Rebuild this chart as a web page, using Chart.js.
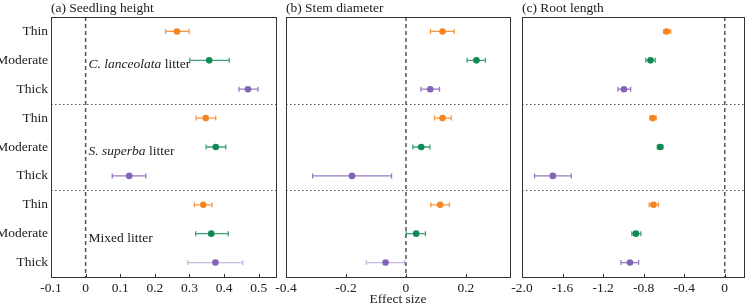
<!DOCTYPE html>
<html>
<head>
<meta charset="utf-8">
<script src="https://cdn.jsdelivr.net/npm/chart.js@4.4.1/dist/chart.umd.min.js"></script>
<style>
    html, body { margin: 0; padding: 0; background: #ffffff; }
    #wrap { position: relative; width: 748px; height: 308px; }
    #wrap canvas { position: absolute; left: 0; top: 0; }
</style>
</head>
<body>
<div id="wrap">
    <canvas id="heightChart" width="748" height="308"></canvas>
    <canvas id="diameterChart" width="748" height="308"></canvas>
    <canvas id="rootChart" width="748" height="308"></canvas>
</div>
<script>
// ===========================
// Data
// ===========================

const rowLabels = ['Thin', 'Moderate', 'Thick', 'Thin', 'Moderate', 'Thick', 'Thin', 'Moderate', 'Thick'];
const rowIndex = [1, 2, 3, 4, 5, 6, 7, 8, 9];

// group captions: italic part + plain part, and the row they sit next to
const groupItalic = ['C. lanceolata', 'S. superba', ''];
const groupPlain = [' litter', ' litter', 'Mixed litter'];
const groupRows = [2, 5, 8];
const groupBreaks = [3.5, 6.5];

// (a) Seedling height
const heightMean = [0.264, 0.357, 0.469, 0.347, 0.376, 0.126, 0.340, 0.363, 0.375];
const heightLow  = [0.231, 0.301, 0.443, 0.319, 0.348, 0.077, 0.314, 0.318, 0.295];
const heightHigh = [0.299, 0.415, 0.498, 0.376, 0.405, 0.174, 0.365, 0.412, 0.454];
const heightTicks = [-0.1, 0, 0.1, 0.2, 0.3, 0.4, 0.5];
const heightTickLabels = ['-0.1', '0', '0.1', '0.2', '0.3', '0.4', '0.5'];

// (b) Stem diameter
const diameterMean = [0.122, 0.235, 0.081, 0.122, 0.051, -0.180, 0.114, 0.034, -0.068];
const diameterLow  = [0.082, 0.204, 0.050, 0.095, 0.023, -0.311, 0.083, 0.001, -0.132];
const diameterHigh = [0.161, 0.265, 0.112, 0.151, 0.080, -0.048, 0.145, 0.065, -0.005];
const diameterTicks = [-0.4, -0.2, 0, 0.2];
const diameterTickLabels = ['-0.4', '-0.2', '0', '0.2'];

// (c) Root length
const rootMean = [-0.573, -0.732, -0.994, -0.710, -0.637, -1.696, -0.703, -0.876, -0.935];
const rootLow  = [-0.602, -0.778, -1.053, -0.739, -0.665, -1.876, -0.745, -0.916, -1.024];
const rootHigh = [-0.533, -0.686, -0.928, -0.676, -0.610, -1.514, -0.654, -0.827, -0.850];
const rootTicks = [-2.0, -1.6, -1.2, -0.8, -0.4, 0];
const rootTickLabels = ['-2.0', '-1.6', '-1.2', '-0.8', '-0.4', '0'];

// ===========================
// Styles
// ===========================

const FONT = '"Liberation Serif", "Times New Roman", serif';
const thicknessColors = ['#f7841f', '#0f8a55', '#8464b6'];
const barColors = ['rgba(247,132,31,0.85)', 'rgba(15,138,85,0.8)', 'rgba(132,100,182,0.85)'];
const faintBar = 'rgba(132,100,182,0.45)';

// ===========================
// Decoration plugin (box, zero line, separators, error bars, text)
// ===========================

const panelDecor = {
    id: 'panelDecor',
    beforeDatasetsDraw(chart, args, opts) {
        const ctx = chart.ctx;
        const area = chart.chartArea;
        const xs = chart.scales.x;
        const ys = chart.scales.y;

        ctx.save();
        // zero line
        const x0 = xs.getPixelForValue(0);
        ctx.strokeStyle = '#555';
        ctx.lineWidth = 1.5;
        ctx.setLineDash([4, 3]);
        ctx.beginPath();
        ctx.moveTo(x0, area.top);
        ctx.lineTo(x0, area.bottom);
        ctx.stroke();

        // dotted group separators
        ctx.lineWidth = 1.2;
        ctx.setLineDash([1.5, 2.5]);
        groupBreaks.forEach(b => {
            const yb = Math.round(ys.getPixelForValue(b)) + 0.5;
            ctx.beginPath();
            ctx.moveTo(area.left, yb);
            ctx.lineTo(area.right, yb);
            ctx.stroke();
        });
        ctx.setLineDash([]);

        // error bars
        const ds = chart.data.datasets[0];
        ds.data.forEach((pt, i) => {
            const y = ys.getPixelForValue(pt.y);
            const xl = xs.getPixelForValue(ds.errLow[i]);
            const xh = xs.getPixelForValue(ds.errHigh[i]);
            ctx.strokeStyle = ds.barColor[i];
            ctx.lineWidth = 1.3;
            ctx.beginPath();
            ctx.moveTo(xl, y);
            ctx.lineTo(xh, y);
            ctx.moveTo(xl, y - 2.5);
            ctx.lineTo(xl, y + 2.5);
            ctx.moveTo(xh, y - 2.5);
            ctx.lineTo(xh, y + 2.5);
            ctx.stroke();
        });
        ctx.restore();
    },
    afterDraw(chart, args, opts) {
        const ctx = chart.ctx;
        const area = chart.chartArea;
        const xs = chart.scales.x;
        const ys = chart.scales.y;

        ctx.save();
        // frame
        ctx.strokeStyle = '#333';
        ctx.lineWidth = 1;
        ctx.strokeRect(Math.round(area.left) + 0.5, Math.round(area.top) + 0.5,
            Math.round(area.right - area.left), Math.round(area.bottom - area.top));

        // inward tick marks on x axis
        xs.ticks.forEach(t => {
            const x = Math.round(xs.getPixelForValue(t.value)) + 0.5;
            ctx.beginPath();
            ctx.moveTo(x, area.bottom);
            ctx.lineTo(x, area.bottom - 3);
            ctx.stroke();
        });

        // panel title
        ctx.fillStyle = '#222';
        ctx.font = '13.5px ' + FONT;
        ctx.textAlign = 'left';
        ctx.textBaseline = 'alphabetic';
        ctx.fillText(opts.title, area.left, 12);

        // group captions
        if (opts.showGroups) {
            const gx = xs.getPixelForValue(0) + 3;
            groupRows.forEach((r, i) => {
                const gy = ys.getPixelForValue(r) + 8;
                ctx.font = 'italic 13.5px ' + FONT;
                ctx.fillText(groupItalic[i], gx, gy);
                const w = ctx.measureText(groupItalic[i]).width;
                ctx.font = '13.5px ' + FONT;
                ctx.fillText(groupPlain[i], gx + w, gy);
            });
        }

        // shared x axis title
        if (opts.xTitle) {
            ctx.font = '13.5px ' + FONT;
            ctx.textAlign = 'center';
            ctx.fillText(opts.xTitle, (area.left + area.right) / 2, 303);
        }
        ctx.restore();
    }
};

// ===========================
// Chart builder
// ===========================

function buildPanel(canvasId, cfg) {
    const ctx = document.getElementById(canvasId);
    if (!ctx) return null;

    const points = cfg.mean.map((v, i) => ({ x: v, y: rowIndex[i] }));
    const colors = rowIndex.map((r, i) => thicknessColors[i % 3]);
    const bars = rowIndex.map((r, i) => (cfg.faintLast && i === 8) ? faintBar : barColors[i % 3]);

    return new Chart(ctx, {
        type: 'scatter',
        data: {
            datasets: [
                {
                    data: points,
                    errLow: cfg.low,
                    errHigh: cfg.high,
                    barColor: bars,
                    pointBackgroundColor: colors,
                    pointBorderColor: colors,
                    pointBorderWidth: 0,
                    pointRadius: 3.3,
                    showLine: false
                }
            ]
        },
        options: {
            responsive: false,
            animation: false,
            devicePixelRatio: 1,
            layout: {
                padding: { left: cfg.padLeft, right: cfg.padRight, top: 17, bottom: 0 }
            },
            plugins: {
                legend: { display: false },
                tooltip: { enabled: false },
                panelDecor: {
                    title: cfg.title,
                    showGroups: cfg.showGroups,
                    xTitle: cfg.xTitle
                }
            },
            scales: {
                x: {
                    type: 'linear',
                    min: cfg.min,
                    max: cfg.max,
                    grid: { display: false, drawTicks: false },
                    border: { display: false },
                    afterBuildTicks: function(scale) {
                        scale.ticks = cfg.ticks.map(v => ({ value: v }));
                    },
                    afterFit: function(scale) {
                        scale.height = 31;
                    },
                    ticks: {
                        padding: 3,
                        color: '#222',
                        font: { family: FONT, size: 13.5 },
                        maxRotation: 0,
                        autoSkip: false,
                        callback: function(value, index) {
                            return cfg.tickLabels[index];
                        }
                    }
                },
                y: {
                    type: 'linear',
                    min: 0.5,
                    max: 9.5,
                    reverse: true,
                    display: cfg.showRows,
                    grid: { display: false, drawTicks: false },
                    border: { display: false },
                    afterBuildTicks: function(scale) {
                        scale.ticks = rowIndex.map(v => ({ value: v }));
                    },
                    afterFit: function(scale) {
                        scale.width = cfg.showRows ? 51 : 0;
                    },
                    ticks: {
                        padding: 3,
                        color: '#222',
                        font: { family: FONT, size: 13.5 },
                        autoSkip: false,
                        callback: function(value, index) {
                            return rowLabels[index];
                        }
                    }
                }
            }
        },
        plugins: [panelDecor]
    });
}

// ===========================
// Panels
// ===========================

buildPanel('heightChart', {
    title: '(a) Seedling height',
    mean: heightMean, low: heightLow, high: heightHigh,
    min: -0.1, max: 0.55,
    ticks: heightTicks, tickLabels: heightTickLabels,
    padLeft: 0, padRight: 472,
    showRows: true, showGroups: true, faintLast: true
});

buildPanel('diameterChart', {
    title: '(b) Stem diameter',
    mean: diameterMean, low: diameterLow, high: diameterHigh,
    min: -0.4, max: 0.347,
    ticks: diameterTicks, tickLabels: diameterTickLabels,
    padLeft: 286, padRight: 238,
    showRows: false, showGroups: false, faintLast: true,
    xTitle: 'Effect size'
});

buildPanel('rootChart', {
    title: '(c) Root length',
    mean: rootMean, low: rootLow, high: rootHigh,
    min: -2.0, max: 0.19,
    ticks: rootTicks, tickLabels: rootTickLabels,
    padLeft: 522, padRight: 3,
    showRows: false, showGroups: false, faintLast: false
});
</script>
</body>
</html>
